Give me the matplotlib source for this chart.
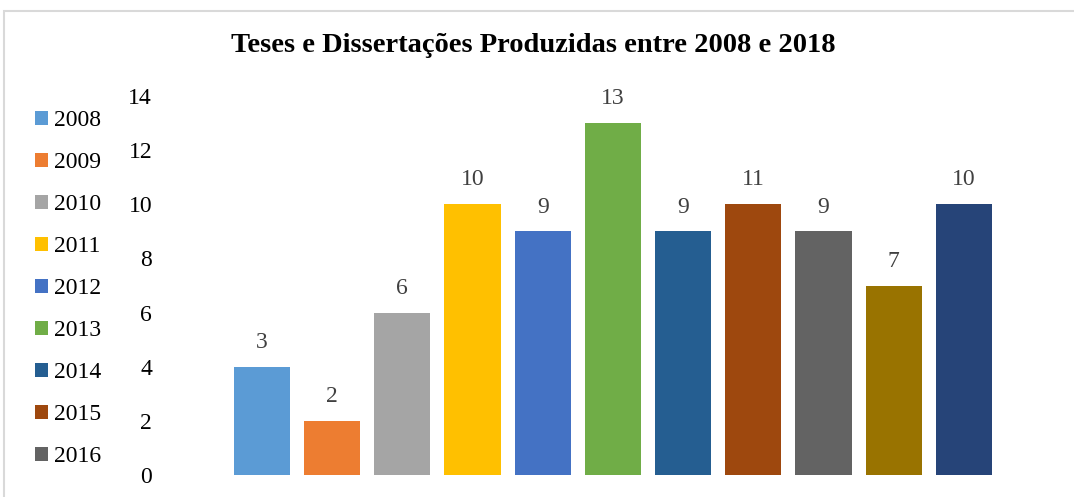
import matplotlib
matplotlib.use("Agg")
import matplotlib.pyplot as plt
from matplotlib.patches import Rectangle

plt.rcParams["font.family"] = ["Liberation Serif", "DejaVu Serif"]

# data
years = ["2008", "2009", "2010", "2011", "2012", "2013",
         "2014", "2015", "2016", "2017", "2018"]
bar_heights = [4, 2, 6, 10, 9, 13, 9, 10, 9, 7, 10]
bar_labels = ["3", "2", "6", "10", "9", "13", "9", "11", "9", "7", "10"]
colors = ["#5B9BD5", "#ED7D31", "#A5A5A5", "#FFC000", "#4472C4", "#70AD47",
          "#255E91", "#9E480E", "#636363", "#997300", "#264478"]
yticks = [0, 2, 4, 6, 8, 10, 12, 14]
legend_count = 9  # only the first nine entries are visible in the reference

W, H = 1074, 497
fig = plt.figure(figsize=(W / 100, H / 100), dpi=100)

# chart frame (cut off at right and bottom like the reference)
fig.patches.append(Rectangle((4 / W, -0.05), 1.2, (H - 11) / H + 0.05,
                             transform=fig.transFigure, fill=False,
                             edgecolor="#D9D9D9", linewidth=1.5))

ax = fig.add_axes([200 / W, 22 / H, 830 / W, 379 / H])
x = list(range(len(years)))
bars = ax.bar(x, bar_heights, width=0.8, color=colors, label=years)

for rect, lab in zip(bars, bar_labels):
    ax.annotate(lab, (rect.get_x() + rect.get_width() / 2, rect.get_height()),
                xytext=(0, 17.5), textcoords="offset points", ha="center",
                va="center", fontsize=17, color="#404040")

ax.set_xlim(-0.88, 10.94)
ax.set_ylim(0, 14)
ax.set_yticks(yticks)
ax.set_yticklabels([str(t) for t in yticks], fontsize=17)
ax.tick_params(axis="y", length=0, pad=34.5)
ax.set_xticks([])
for side in ax.spines.values():
    side.set_visible(False)

handles = [bars[i] for i in range(legend_count)]
ax.legend(handles, years[:legend_count], loc="upper left",
          bbox_to_anchor=(35 / W, 1 - 110 / H), bbox_transform=fig.transFigure,
          frameon=False, fontsize=17, handlelength=0.55, handleheight=0.55,
          handletextpad=0.25, labelspacing=0.89, borderaxespad=0, borderpad=0)

fig.text(533 / W, 1 - 45 / H, "Teses e Dissertações Produzidas entre 2008 e 2018",
         ha="center", va="center", fontsize=20.5, fontweight="bold")

fig.savefig("out.png", dpi=100)
